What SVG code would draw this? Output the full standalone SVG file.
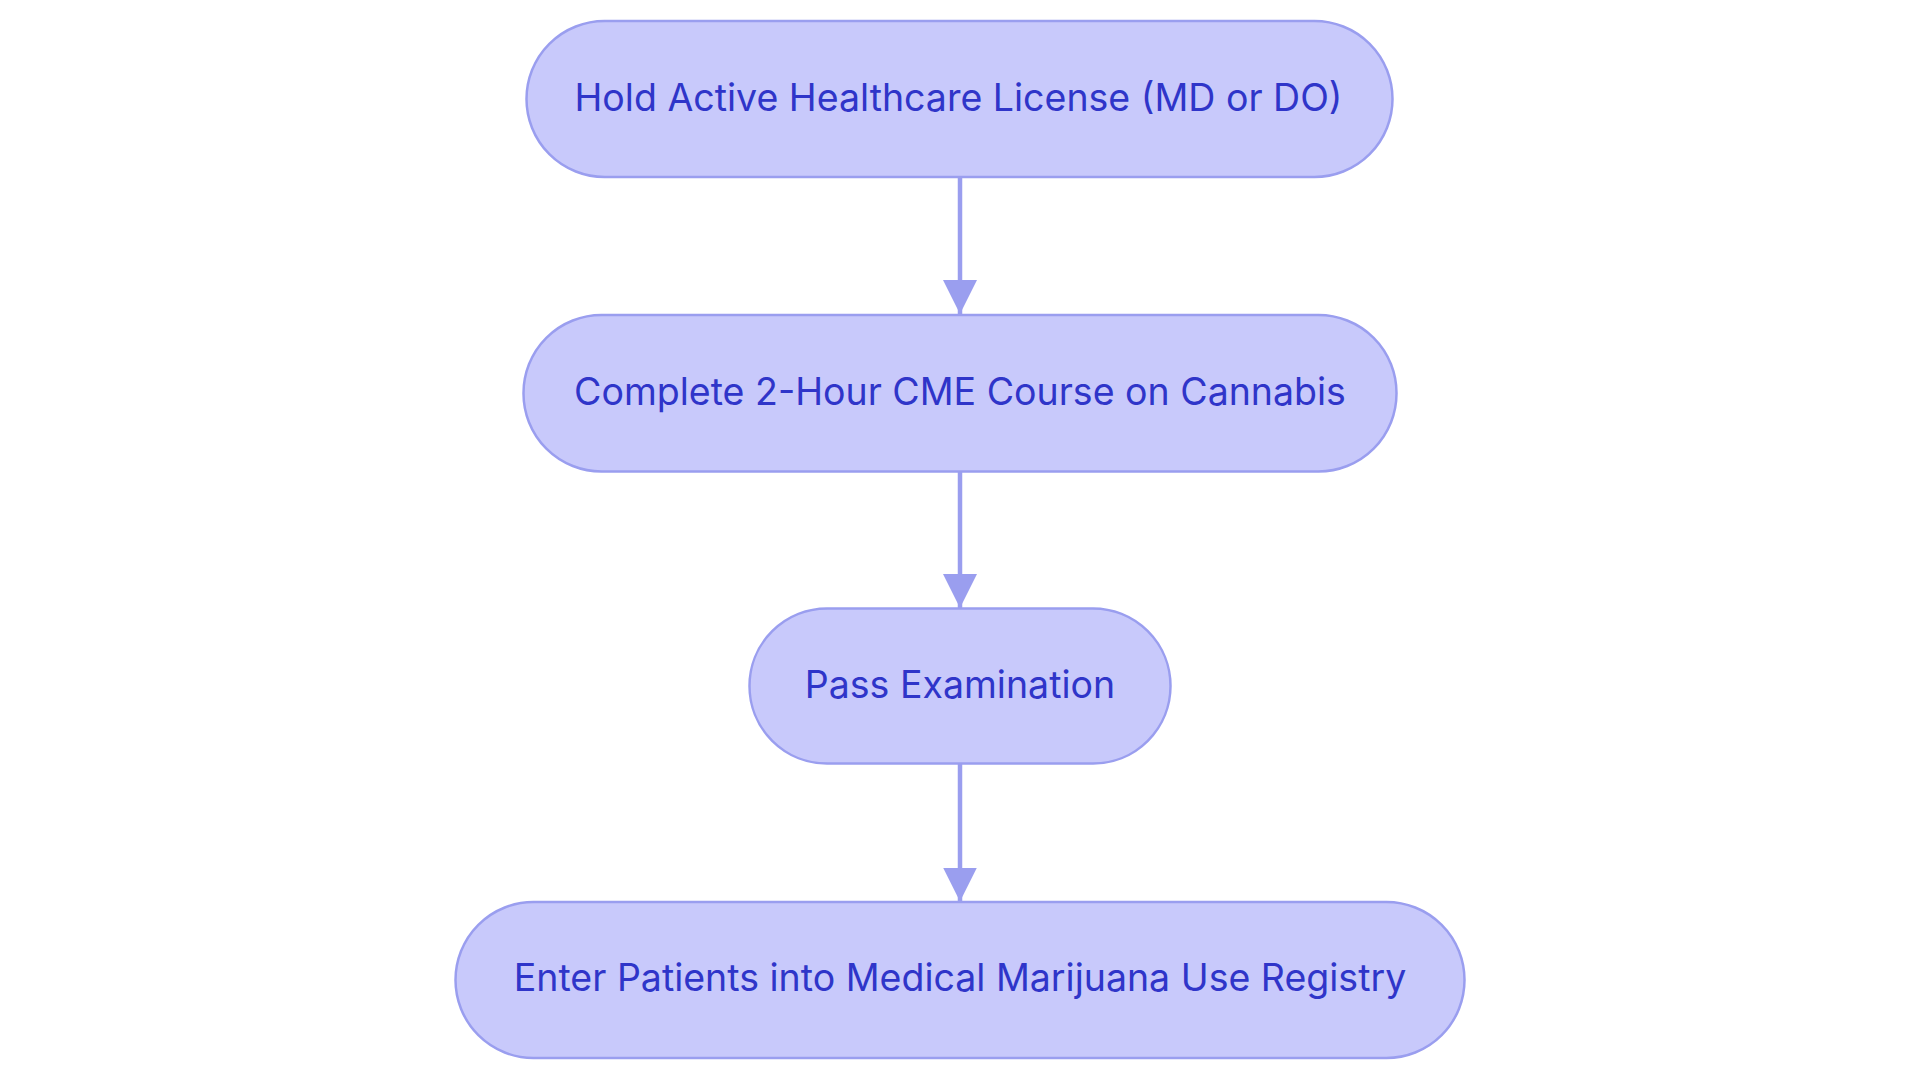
<svg xmlns="http://www.w3.org/2000/svg" width="1920" height="1083" viewBox="0 0 1920 1083">
<style>
.node rect{fill:#c8c9fb;stroke:#9a9eef;stroke-width:2.5}
.node text{font-family:Inter,"Noto Sans","DejaVu Sans",sans-serif;font-size:37.5px;fill:#2f35c9;text-anchor:middle}
.edge{stroke:#9a9eef;stroke-width:4.5;fill:none}
</style>
<defs>
<marker id="arr" markerUnits="userSpaceOnUse" markerWidth="36" markerHeight="36" refX="34" refY="17" orient="auto">
<path d="M0,0 L34,17 L0,34 Z" fill="#9a9eef"/>
</marker>
</defs>
<rect width="1920" height="1083" fill="#ffffff"/>
<g id="edges">
<line class="edge" x1="960" y1="177" x2="960" y2="314" marker-end="url(#arr)"/>
<line class="edge" x1="960" y1="471.5" x2="960" y2="608" marker-end="url(#arr)"/>
<line class="edge" x1="960" y1="763.3" x2="960" y2="901.5" marker-end="url(#arr)"/>
</g>
<g id="n1" class="node">
<rect x="526.5" y="21" width="866" height="156" rx="78" ry="78"/>
<text x="958.5" y="110.5">Hold Active Healthcare License (MD or DO)</text>
</g>
<g id="n2" class="node">
<rect x="523.5" y="315" width="873" height="156.5" rx="78" ry="78"/>
<text x="960" y="404.5">Complete 2-Hour CME Course on Cannabis</text>
</g>
<g id="n3" class="node">
<rect x="749.5" y="608.5" width="421" height="155" rx="77.5" ry="77.5"/>
<text x="960" y="697.5">Pass Examination</text>
</g>
<g id="n4" class="node">
<rect x="455.5" y="902" width="1009" height="156" rx="78" ry="78"/>
<text x="960" y="991">Enter Patients into Medical Marijuana Use Registry</text>
</g>
</svg>
